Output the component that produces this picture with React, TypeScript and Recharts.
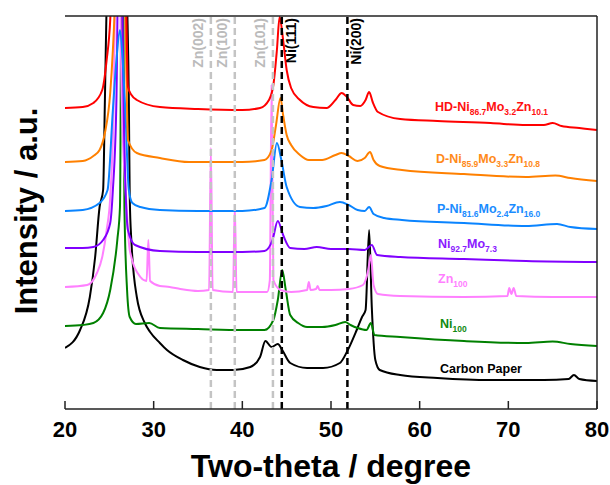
import React from 'react';
import { LineChart, Line, XAxis, YAxis, ReferenceLine, Customized } from 'recharts';

const FONT = '"Liberation Sans", Arial, Helvetica, sans-serif';

const majorTicks = [20, 30, 40, 50, 60, 70, 80];
const minorTicks = [25, 35, 45, 55, 65, 75];
const X_DOMAIN: [number, number] = [20, 80];
const Y_DOMAIN: [number, number] = [0, 393];

// [two-theta (degree), intensity (a.u., stacked with offsets)]
const hdNiMoZn: [number, number][] = [
  [20, 301], [22, 302], [23.2, 306], [24.2, 319], [24.7, 349], [25.1, 389], [25.4, 460], [26.0, 800],
  [26.6, 460], [26.9, 400], [27.1, 322], [27.5, 314], [28.1, 309], [30.7, 302], [35, 300], [40, 299],
  [42, 301], [43, 309], [43.5, 324], [43.9, 359], [44.2, 392], [44.6, 369], [45.0, 339], [45.5, 321],
  [46.5, 309], [48, 302], [49.5, 301], [50.5, 309], [51.2, 316], [51.8, 312], [52.5, 304], [53.3, 303],
  [53.9, 309], [54.3, 317], [54.7, 307], [55.3, 297], [57.8, 290], [62, 288], [68, 286], [72, 284],
  [74, 284], [75, 286], [76, 283], [78, 281], [80, 279],
];

const dNiMoZn: [number, number][] = [
  [20, 247], [22, 248], [23.2, 253], [23.9, 259], [24.5, 276], [25.1, 316], [25.4, 359], [25.6, 399],
  [26.2, 700], [26.8, 399], [27.0, 300], [27.1, 269], [28.1, 256], [30.7, 251], [34, 247], [40, 247],
  [42.5, 249], [43.3, 259], [43.8, 284], [44.3, 311], [44.6, 294], [45.0, 274], [45.5, 264], [46.5, 254],
  [47.5, 249], [49, 249], [50.5, 254], [51.2, 256], [52, 253], [53, 248], [53.8, 251], [54.4, 257],
  [54.8, 249], [55.5, 243], [58, 239], [65, 235], [72, 232], [75.3, 233.5], [77, 231], [80, 228],
];

const pNiMoZn: [number, number][] = [
  [20, 198], [22, 199], [23.9, 206], [24.8, 219], [25.4, 299], [25.8, 349], [26.2, 379], [26.5, 349],
  [26.8, 299], [27.2, 219], [27.6, 206], [28.5, 202], [30.7, 199], [35, 198], [40, 198], [42.5, 201],
  [43.3, 229], [43.9, 266], [44.4, 249], [45.0, 222], [46.5, 202], [48, 201], [49.5, 203], [51.0, 207],
  [52, 204], [53, 199], [53.8, 198], [54.3, 202], [54.8, 195], [56, 191], [58, 189], [65, 186],
  [72, 183], [75.5, 185], [77, 182], [80, 180],
];

const niMo: [number, number][] = [
  [20, 161], [22, 161], [23.2, 162], [24.3, 169], [25.1, 186], [25.4, 219], [25.8, 309], [26.2, 600],
  [26.6, 309], [27.1, 179], [27.9, 164], [30.7, 158], [35, 157], [40, 157], [42.5, 158], [43.4, 169],
  [44.0, 188], [44.6, 174], [45.4, 161], [47, 160], [48.4, 162], [50, 160], [52, 160], [53.8, 159],
  [54.6, 164], [55.2, 154], [57.8, 152], [65, 150], [72, 148], [80, 147],
];

const zn: [number, number][] = [
  [20, 122], [22.5, 124], [23.6, 136], [24.2, 152], [24.7, 179], [25.1, 212], [25.5, 309], [25.9, 600],
  [26.4, 309], [26.9, 209], [27.3, 159], [28.5, 132], [29.2, 128], [29.4, 169], [29.6, 128], [30.7, 123],
  [31.8, 122], [33, 120], [35, 118], [36.25, 119], [36.45, 261], [36.65, 119], [38.95, 117], [39.15, 204],
  [39.35, 117], [42.8, 117], [43.1, 129], [43.3, 324], [43.5, 129], [44.3, 119], [45.5, 117], [47.3, 119],
  [47.5, 127], [47.7, 119], [48.3, 120], [48.5, 123], [48.7, 119], [50, 119], [52, 120], [53.6, 124],
  [54.2, 139], [54.5, 154], [54.8, 124], [55.3, 115], [57.8, 113], [65, 112], [69.9, 113], [70.1, 121],
  [70.35, 115], [70.6, 121], [70.9, 113], [75, 112], [80, 112],
];

const ni: [number, number][] = [
  [20, 83], [22, 84], [23.2, 86], [24.3, 96], [25.1, 119], [25.9, 169], [26.2, 202], [26.45, 600],
  [26.7, 202], [27.0, 119], [27.3, 92], [28, 85], [29.5, 86], [30.7, 81], [35, 80], [40, 79],
  [42.5, 79], [43.5, 89], [44.0, 109], [44.5, 139], [44.9, 119], [45.4, 94], [46.3, 86], [47.3, 82],
  [49, 82], [50.5, 84], [51.6, 87], [52.2, 84], [53, 81], [54.0, 79], [54.5, 86], [54.9, 74],
  [57.8, 72], [65, 68], [72, 66], [75, 67.5], [77, 65], [80, 63],
];

const carbonPaper: [number, number][] = [
  [20, 61], [21.7, 79], [22.8, 112], [23.4, 152], [23.9, 202], [24.3, 219], [24.5, 309], [24.7, 409],
  [26.0, 700], [27.0, 409], [27.2, 309], [27.3, 212], [27.5, 166], [28.1, 112], [29.0, 86], [29.6, 77],
  [30.7, 66], [31.5, 59], [33.3, 49], [35.2, 42], [37.1, 39], [39.0, 39], [40.9, 42], [42.0, 52],
  [42.6, 68], [43.3, 62], [44.0, 65], [44.5, 59], [45.4, 46], [47.3, 41], [49.1, 41], [51.0, 46],
  [51.9, 59], [52.9, 79], [53.5, 92], [53.9, 99], [54.3, 179], [54.6, 102], [55.0, 49], [55.5, 39],
  [57.8, 34], [62, 31], [68, 29], [74, 29], [76.8, 30], [77.4, 34], [78, 30], [80, 28],
];

const znPeaks = [
  { name: 'Zn(002)', at: 36.45 },
  { name: 'Zn(100)', at: 39.15 },
  { name: 'Zn(101)', at: 43.45 },
];
const niPeaks = [
  { name: 'Ni(111)', at: 44.45 },
  { name: 'Ni(200)', at: 51.85 },
];

// label parts: [text, isSubscript]
const seriesLabels: { parts: [string, boolean][]; color: string }[] = [
  { parts: [['HD-Ni', false], ['86.7', true], ['Mo', false], ['3.2', true], ['Zn', false], ['10.1', true]], color: '#ff1010' },
  { parts: [['D-Ni', false], ['85.9', true], ['Mo', false], ['3.3', true], ['Zn', false], ['10.8', true]], color: '#ff8a1a' },
  { parts: [['P-Ni', false], ['81.6', true], ['Mo', false], ['2.4', true], ['Zn', false], ['16.0', true]], color: '#1a8cff' },
  { parts: [['Ni', false], ['92.7', true], ['Mo', false], ['7.3', true]], color: '#8a1aff' },
  { parts: [['Zn', false], ['100', true]], color: '#ff80ff' },
  { parts: [['Ni', false], ['100', true]], color: '#108a10' },
  { parts: [['Carbon Paper', false]], color: '#000000' },
];
const labelSpots = [
  { x: 435, y: 111 }, { x: 436, y: 163 }, { x: 437, y: 213 }, { x: 438, y: 248 },
  { x: 438, y: 283 }, { x: 440, y: 328 }, { x: 440, y: 373 },
];

const series = [
  { key: 'carbon', pts: carbonPaper, color: '#000000' },
  { key: 'ni', pts: ni, color: '#008000' },
  { key: 'zn', pts: zn, color: '#ff80ff' },
  { key: 'nimo', pts: niMo, color: '#8000ff' },
  { key: 'p', pts: pNiMoZn, color: '#0a84ff' },
  { key: 'd', pts: dNiMoZn, color: '#ff8000' },
  { key: 'hd', pts: hdNiMoZn, color: '#ff0000' },
];

const FRAME = { stroke: '#222', strokeWidth: 1.5 };

const PeakLabel = (props: any) => {
  const { viewBox, text, color, dx } = props;
  const x = (viewBox?.x ?? 0) + dx;
  const y = 18;
  return (
    <text x={x} y={y} transform={`rotate(-90 ${x} ${y})`} textAnchor="end" fontFamily={FONT}
      fontWeight="bold" fontSize={14} fill={color}>{text}</text>
  );
};

const Overlay = () => (
  <g fontFamily={FONT} fontWeight="bold">
    <text x={331} y={477} textAnchor="middle" fontSize={32} fill="#000">Two-theta / degree</text>
    <text x={37} y={211} transform="rotate(-90 37 211)" textAnchor="middle" fontSize={31} fill="#000">Intensity / a.u.</text>
    {seriesLabels.map((lab, i) => {
      let off = 0;
      return (
        <text key={i} x={labelSpots[i].x} y={labelSpots[i].y} fill={lab.color} fontSize={12.5}>
          {lab.parts.map(([t, sub], j) => {
            const target = sub ? 4 : 0;
            const dy = target - off;
            off = target;
            return <tspan key={j} dy={dy} fontSize={sub ? 8.5 : 12.5}>{t}</tspan>;
          })}
        </text>
      );
    })}
  </g>
);

export default function App() {
  return (
    <div style={{ position: 'absolute', left: 0, top: 0, background: '#fff' }}>
      <LineChart width={610} height={485} margin={{ top: 16, right: 13, bottom: 0, left: 65 }}>
        <XAxis xAxisId="minor" type="number" dataKey="x" domain={X_DOMAIN} ticks={minorTicks} height={0}
          tick={false} tickSize={-4} axisLine={false} tickLine={FRAME} allowDataOverflow />
        <XAxis xAxisId={0} type="number" dataKey="x" domain={X_DOMAIN} ticks={majorTicks} height={76}
          tickSize={-8} tickMargin={20} interval={0} axisLine={FRAME} tickLine={FRAME}
          tick={{ fontSize: 22, fontWeight: 'bold', fill: '#000', fontFamily: FONT }} allowDataOverflow />
        <YAxis yAxisId={0} type="number" domain={Y_DOMAIN} width={0} tick={false} tickLine={false}
          axisLine={FRAME} allowDataOverflow />
        {series.map((s) => (
          <Line key={s.key} data={s.pts.map(([x, y]) => ({ x, y }))} dataKey="y" type="monotone"
            stroke={s.color} strokeWidth={2} dot={false} activeDot={false} isAnimationActive={false} />
        ))}
        {znPeaks.map((p) => (
          <ReferenceLine key={p.name} x={p.at} stroke="#c4c4c4" strokeWidth={2.5} strokeDasharray="7 4"
            label={<PeakLabel text={p.name} color="#bbbbbb" dx={-8} />} />
        ))}
        {niPeaks.map((p) => (
          <ReferenceLine key={p.name} x={p.at} stroke="#000" strokeWidth={2.5} strokeDasharray="7 4"
            label={<PeakLabel text={p.name} color="#000" dx={14} />} />
        ))}
        <ReferenceLine y={Y_DOMAIN[1]} stroke="#222" strokeWidth={1.5} />
        <ReferenceLine x={X_DOMAIN[1]} stroke="#222" strokeWidth={1.5} />
        <Customized component={<Overlay />} />
      </LineChart>
    </div>
  );
}
